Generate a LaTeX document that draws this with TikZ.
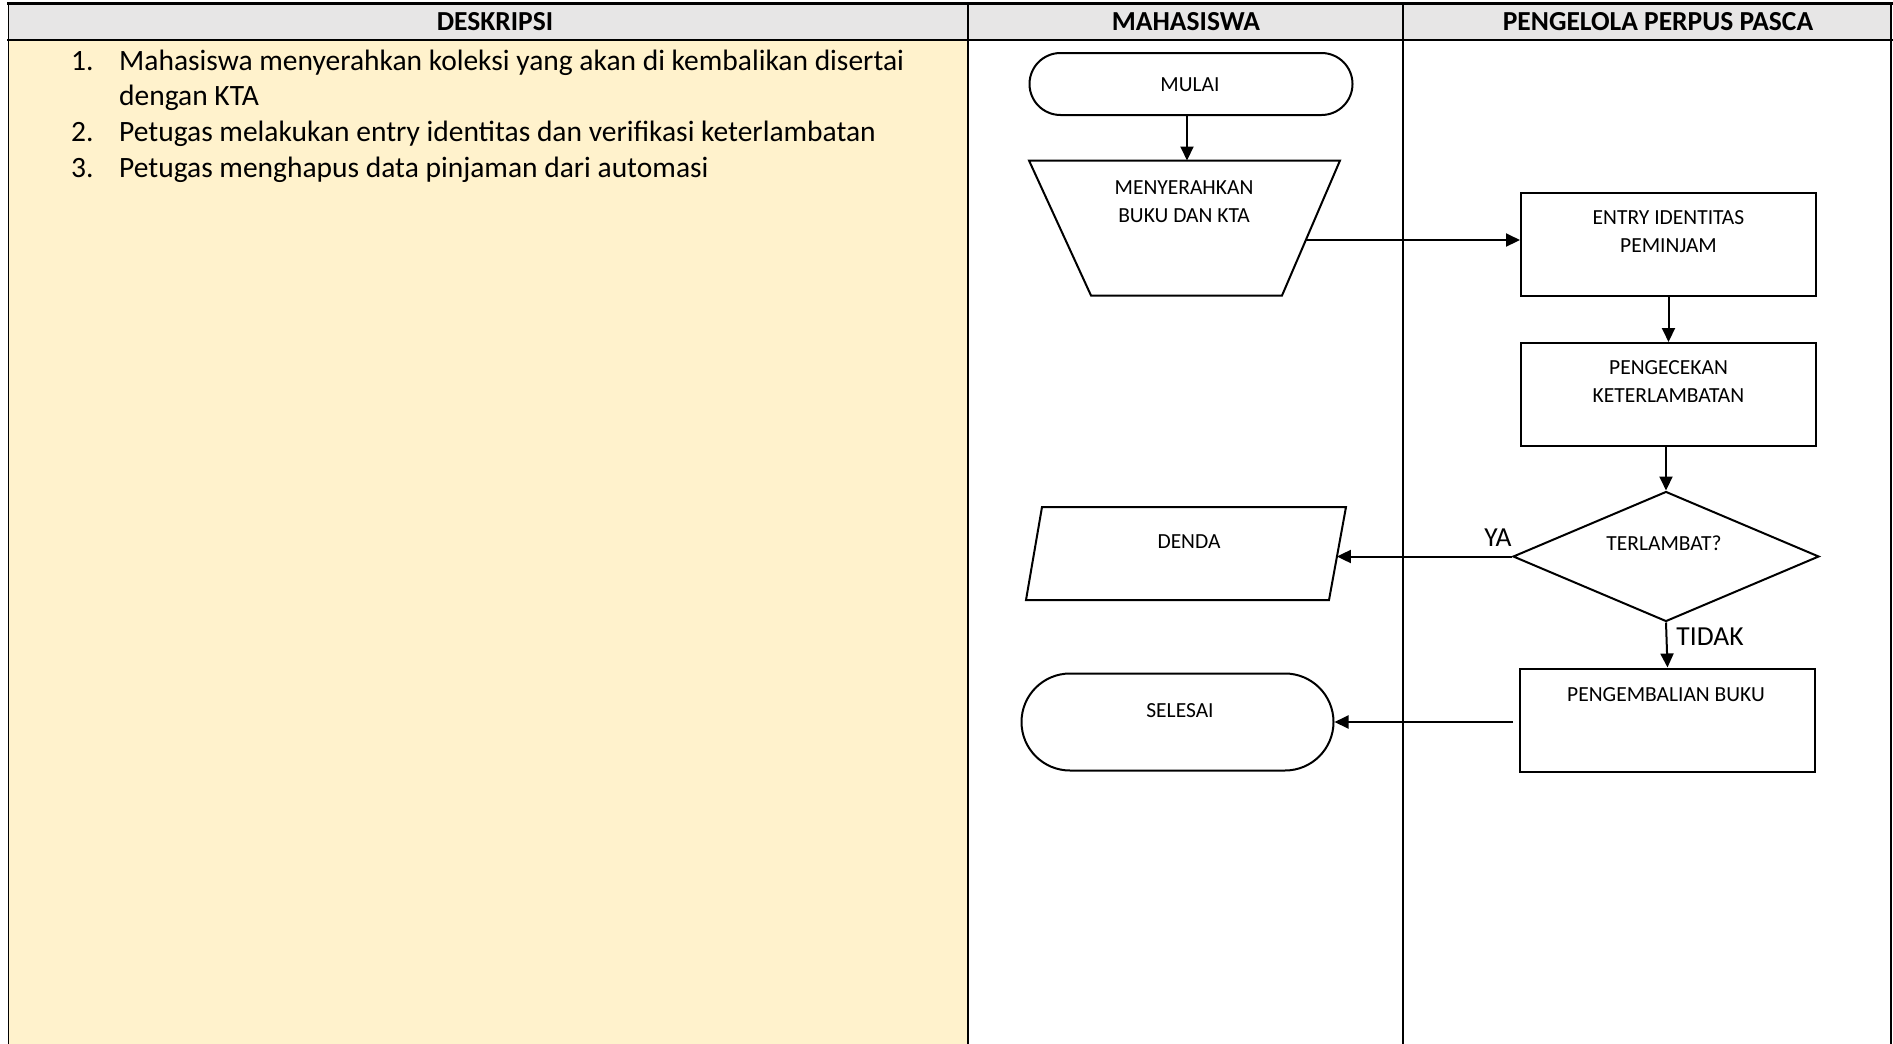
\documentclass[tikz,border=0pt]{standalone}
\usepackage{fontspec}
\setmainfont{Carlito}
\usetikzlibrary{shapes.geometric,shapes.misc,arrows.meta,calc}
\definecolor{hdrgray}{HTML}{E7E6E6}
\definecolor{descyellow}{HTML}{FFF2CC}
\tikzset{
  shapeline/.style={draw=black, line width=2pt},
  procbox/.style={shapeline, rectangle, minimum width=295pt, minimum height=103pt, inner sep=0pt},
  termbox/.style={shapeline, rounded rectangle, rounded rectangle arc length=180, inner sep=0pt},
  decbox/.style={shapeline, diamond, minimum width=306pt, minimum height=130pt, inner sep=0pt},
  arr/.style={line width=2pt, -{Triangle[length=14pt,width=13pt]}},
  lbl/.style={font=\fontsize{21.5}{28}\selectfont, align=center, inner sep=0pt},
  edgelbl/.style={font=\fontsize{27.5}{30}\selectfont, inner sep=0pt},
  hdr/.style={font=\fontsize{27.5}{30}\selectfont\bfseries, inner sep=0pt},
  desc/.style={font=\fontsize{29.5}{35}\selectfont, inner sep=0pt, anchor=base west},
  grid/.style={draw=black, line width=1.5pt},
}
\begin{document}
\begin{tikzpicture}[x=1pt,y=-1pt]
\useasboundingbox (0,0) rectangle (1893,1044);
% backgrounds
\fill[hdrgray] (8.5,3) rectangle (1891,40);
\fill[descyellow] (8.5,40) rectangle (968,1044);
% grid lines
\draw[grid] (8.5,3) -- (8.5,1044);
\draw[grid] (968,3) -- (968,1044);
\draw[grid] (1403,3) -- (1403,1044);
\draw[grid] (1891,3) -- (1891,1044);
\draw[draw=black, line width=3pt] (7,3) -- (1892.5,3);
\draw[draw=black, line width=2.5pt] (7,40) -- (1892.5,40);
% headers
\node[hdr] (h1) at (495,22) {DESKRIPSI};
\node[hdr] (h2) at (1186,22) {MAHASISWA};
\node[hdr] (h3) at (1658,22) {PENGELOLA PERPUS PASCA};
% description list
\node[desc] (n1) at (71,70) {1.};
\node[desc] (d1) at (119,70) {Mahasiswa menyerahkan koleksi yang akan di kembalikan disertai};
\node[desc] (d1b) at (119,105.5) {dengan KTA};
\node[desc] (n2) at (71,141.5) {2.};
\node[desc] (d2) at (119,141.5) {Petugas melakukan entry identitas dan verifikasi keterlambatan};
\node[desc] (n3) at (71,177) {3.};
\node[desc] (d3) at (119,177) {Petugas menghapus data pinjaman dari automasi};
% MULAI
\node[termbox, minimum width=323pt, minimum height=62pt] (mulai) at (1191,84) {};
\node[lbl] (tmulai) at (1190,85) {MULAI};
% trapezoid (manual operation)
\coordinate (tTL) at (1029,160.5);
\coordinate (tTR) at (1340,160.5);
\coordinate (tBR) at (1282,295.5);
\coordinate (tBL) at (1091,295.5);
\draw[shapeline, line join=miter] (tTL) -- (tTR) -- (tBR) -- (tBL) -- cycle;
\node[lbl] (ttrap) at (1184,202) {MENYERAHKAN\\BUKU DAN KTA};
\coordinate (trapTop) at (1187,160.5);
\coordinate (trapR) at ($(tTR)!0.589!(tBR)$);
% ENTRY
\node[procbox] (entry) at (1668.5,244.5) {};
\node[lbl] (tentry) at (1668.5,232) {ENTRY IDENTITAS\\PEMINJAM};
% PENGECEKAN
\node[procbox] (cek) at (1668.5,394.5) {};
\node[lbl] (tcek) at (1668.5,382) {PENGECEKAN\\KETERLAMBATAN};
% decision
\node[decbox] (dec) at (1666,556.5) {};
\node[lbl] (tdec) at (1664,543) {TERLAMBAT?};
% DENDA parallelogram
\coordinate (pTL) at (1042,507);
\coordinate (pTR) at (1346,507);
\coordinate (pBR) at (1329,600);
\coordinate (pBL) at (1026,600);
\draw[shapeline, line join=miter] (pTL) -- (pTR) -- (pBR) -- (pBL) -- cycle;
\node[lbl] (tdenda) at (1189,541.5) {DENDA};
\coordinate (dendaR) at ($(pTR)!0.535!(pBR)$);
% PENGEMBALIAN BUKU
\node[procbox] (kembali) at (1667.5,720) {};
\node[lbl] (tkembali) at (1666,694.5) {PENGEMBALIAN BUKU};
% SELESAI
\node[termbox, minimum width=312pt, minimum height=97pt] (selesai) at (1177.5,722) {};
\node[lbl] (tselesai) at (1180,711) {SELESAI};
\coordinate (kemL) at ($(selesai.east -| kembali.west)+(-6,0)$);
% connectors
\draw[arr] (mulai.south -| trapTop) -- (trapTop);
\draw[arr] (trapR) -- (trapR -| entry.west);
\draw[arr] (entry.south) -- (cek.north);
\draw[arr] (cek.south -| dec.north) -- (dec.north);
\draw[arr] (dec.west) -- (dec.west -| dendaR);
\draw[arr] (dec.south) -- (kembali.south |- kembali.north);
\draw[arr] (kemL) -- (selesai.east);
% edge labels
\node[edgelbl] (ya) at (1498,538) {YA};
\node[edgelbl] (tidak) at (1710,637) {TIDAK};
\end{tikzpicture}
\end{document}
